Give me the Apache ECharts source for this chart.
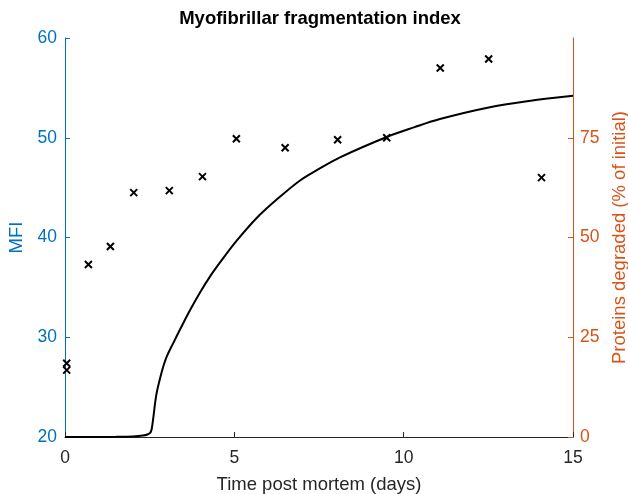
<!DOCTYPE html>
<html>
<head>
<meta charset="utf-8">
<script src="https://cdn.jsdelivr.net/npm/echarts@6/dist/echarts.min.js"></script>
<style>html,body{margin:0;padding:0;background:#fff;}#c{width:628px;height:494px;}</style>
</head>
<body>
<div id="c"></div>
<script>
// MFI measurements (days, MFI)
const mfiDays = [0.05, 0.05, 0.69, 1.34, 2.03, 3.08, 4.06, 5.06, 6.50, 8.05, 9.50, 11.08, 12.51, 14.07];
const mfiValues = [27.4, 26.7, 37.3, 39.1, 44.5, 44.7, 46.1, 49.9, 49.0, 49.8, 50.0, 57.0, 57.9, 46.0];
// Proteins degraded curve (days, % of initial)
const curveDays = [0, 1.0, 1.5, 2.0, 2.3, 2.45, 2.52, 2.56, 2.61, 2.66, 2.71, 2.8, 2.9, 3.0, 3.2, 3.4, 3.69, 4.0, 4.28, 4.6, 5.07, 5.66, 6.25, 6.94, 7.5, 8.12, 9.5, 10.3, 11.07, 12.51, 13.7, 15.0];
const curveValues = [0, 0.02, 0.05, 0.15, 0.35, 0.7, 1.1, 2.0, 5.0, 8.5, 11.2, 14.5, 17.6, 20.1, 23.6, 27.0, 31.75, 36.4, 40.2, 44.0, 49.2, 54.9, 59.5, 64.3, 67.2, 70.1, 75.2, 77.6, 79.7, 82.6, 84.2, 85.5];
const xTicks = [0, 5, 10, 15];
const leftTicks = [20, 30, 40, 50, 60];
const rightTicks = [0, 25, 50, 75];

const font = 'Liberation Sans, Arial, Helvetica, sans-serif';
const blue = '#0072BD', orange = '#D95319', dark = '#262626';

const chart = echarts.init(document.getElementById('c'), null, {renderer: 'canvas'});
chart.setOption({
  animation: false,
  backgroundColor: '#fff',
  graphic: [{
    type: 'text', x: 320, y: 9,
    style: {
      text: 'Myofibrillar fragmentation index', align: 'center', verticalAlign: 'top',
      fontFamily: font, fontSize: 18.5, fontWeight: 'bold', fill: '#000'
    }
  }],
  grid: {left: 65, right: 55, top: 38, bottom: 57, containLabel: false, outerBoundsMode: 'none'},
  xAxis: {
    type: 'value', min: 0, max: 15, interval: 5,
    name: 'Time post mortem (days)', nameLocation: 'middle', nameGap: 38,
    nameTextStyle: {fontFamily: font, fontSize: 18.5, color: dark},
    axisLine: {show: true, onZero: false, lineStyle: {color: dark, width: 1}},
    axisTick: {show: true, inside: true, length: 5, lineStyle: {color: dark}, customValues: xTicks},
    axisLabel: {fontFamily: font, fontSize: 17.5, color: dark, margin: 12, customValues: xTicks},
    splitLine: {show: false}
  },
  yAxis: [{
    type: 'value', min: 20, max: 60, interval: 10, position: 'left',
    name: 'MFI', nameLocation: 'middle', nameGap: 33,
    nameTextStyle: {fontFamily: font, fontSize: 18.5, color: blue},
    axisLine: {show: true, lineStyle: {color: blue, width: 1}},
    axisTick: {show: true, inside: true, length: 5, lineStyle: {color: blue}, customValues: leftTicks},
    axisLabel: {fontFamily: font, fontSize: 17.5, color: blue, margin: 8, customValues: leftTicks},
    splitLine: {show: false}
  }, {
    type: 'value', min: 0, max: 100, position: 'right',
    name: 'Proteins degraded (% of initial)', nameLocation: 'middle', nameGap: 37,
    nameTextStyle: {fontFamily: font, fontSize: 18.5, color: orange},
    axisLine: {show: true, lineStyle: {color: orange, width: 1}},
    axisTick: {show: true, inside: true, length: 5, lineStyle: {color: orange}, customValues: rightTicks},
    axisLabel: {fontFamily: font, fontSize: 17.5, color: orange, margin: 7, customValues: rightTicks},
    splitLine: {show: false}
  }],
  series: [{
    type: 'line', yAxisIndex: 1,
    data: curveDays.map((d, i) => [d, curveValues[i]]),
    showSymbol: false, smooth: 0.35,
    lineStyle: {color: '#000', width: 2}, z: 2
  }, {
    type: 'scatter', yAxisIndex: 0,
    data: mfiDays.map((d, i) => [d, mfiValues[i]]),
    symbol: 'path://M0,0L10,10M10,0L0,10', symbolSize: 7,
    itemStyle: {color: 'rgba(0,0,0,0)', borderColor: '#000', borderWidth: 2, opacity: 1},
    z: 3
  }]
});
</script>
</body>
</html>
